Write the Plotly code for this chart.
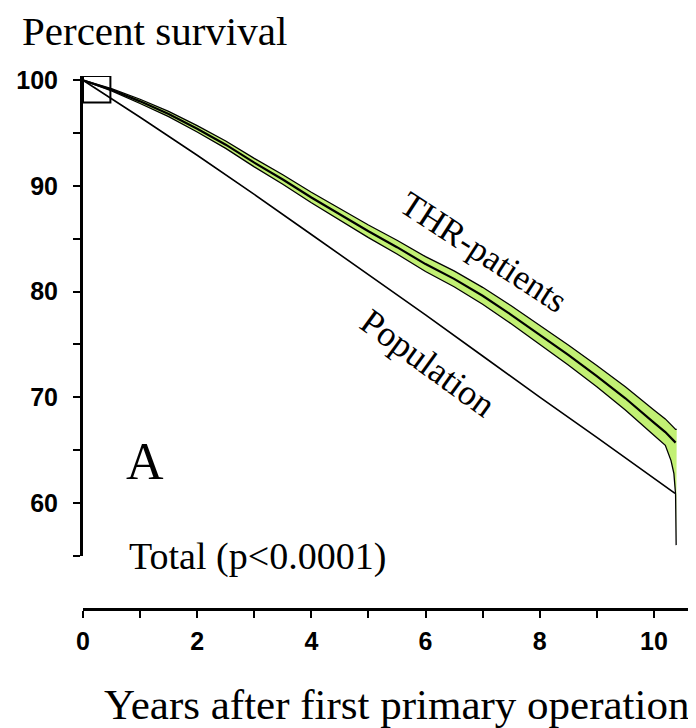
import plotly.graph_objects as go

# THR-patients survival (centre line) and 95% band
thr_years = [0, 0.5, 1, 1.5, 2, 2.5, 3, 3.5, 4, 4.5, 5, 5.5, 6, 6.5, 7, 7.5, 8, 8.5, 9, 9.5, 10, 10.2, 10.38]
thr_surv = [100, 99.1, 98.0, 96.8, 95.4, 93.9, 92.2, 90.6, 88.9, 87.3, 85.7, 84.2, 82.6, 81.2, 79.6, 77.8, 75.9, 74.0, 72.0, 69.9, 67.6, 66.7, 65.7]
thr_halfwidth = [0, 0.1, 0.2, 0.25, 0.3, 0.35, 0.4, 0.45, 0.5, 0.55, 0.6, 0.65, 0.7, 0.75, 0.8, 0.85, 0.9, 0.95, 1.0, 1.1, 1.2, 1.25, 1.25]

# lower band bends down at the end of follow-up
tail_years = [10.3, 10.35, 10.38, 10.39]
tail_lower = [64.0, 62.8, 60.8, 56.0]

# expected survival of the matched population
pop_years = [0, 1, 2, 3, 4, 5, 6, 7, 8, 9, 10, 10.37]
pop_surv = [100, 96.5, 92.9, 89.2, 85.4, 81.6, 77.8, 73.9, 70.0, 66.2, 62.3, 60.9]

upper = [s + h for s, h in zip(thr_surv, thr_halfwidth)]
lower = [s - h for s, h in zip(thr_surv, thr_halfwidth)]
upper_x = thr_years + [10.4]
upper_y = upper + [upper[-1]]
lower_x = thr_years[:-1] + tail_years
lower_y = lower[:-1] + tail_lower

serif = "Liberation Serif, Times New Roman, serif"
sans = "Liberation Sans, Arial, sans-serif"

fig = go.Figure()
fig.add_trace(go.Scatter(
    x=upper_x + lower_x[::-1], y=upper_y + lower_y[::-1],
    fill="toself", fillcolor="#c2f074", line=dict(width=0),
    mode="lines", hoverinfo="skip"))
fig.add_trace(go.Scatter(x=upper_x, y=upper_y, mode="lines",
                         line=dict(color="black", width=1.3)))
fig.add_trace(go.Scatter(x=lower_x, y=lower_y, mode="lines",
                         line=dict(color="black", width=1.3)))
fig.add_trace(go.Scatter(x=thr_years, y=thr_surv, mode="lines",
                         line=dict(color="black", width=2.2)))
fig.add_trace(go.Scatter(x=pop_years, y=pop_surv, mode="lines",
                         line=dict(color="black", width=1.6)))

fig.add_shape(type="rect", x0=0, x1=0.48, y0=97.9, y1=100.4,
              line=dict(color="black", width=2))

fig.add_annotation(x=7.02, y=83.65, text="THR-patients", textangle=33,
                   showarrow=False, font=dict(family=serif, size=35, color="black"))
fig.add_annotation(x=6.04, y=73.25, text="Population", textangle=36,
                   showarrow=False, font=dict(family=serif, size=36, color="black"))
fig.add_annotation(x=1.09, y=63.9, text="A", showarrow=False,
                   font=dict(family=serif, size=52, color="black"))
fig.add_annotation(x=0.072, y=0.0976, xref="paper", yref="paper",
                   text="Total (p<0.0001)", xanchor="left", yanchor="middle",
                   showarrow=False, font=dict(family=serif, size=38, color="black"))
fig.add_annotation(x=-0.104, y=1.085, xref="paper", yref="paper",
                   text="Percent survival", xanchor="left", yanchor="middle",
                   showarrow=False,
                   font=dict(family=serif, size=41, color="black"))
fig.add_annotation(x=0.517, y=-0.18, xref="paper", yref="paper",
                   text="Years after first primary operation",
                   xanchor="center", yanchor="middle", showarrow=False,
                   font=dict(family=serif, size=43, color="black"))

# the page has an 8px body margin, so the figure is shifted to compensate
fig.update_layout(
    width=688, height=720,
    margin=dict(l=75, r=5, t=68, b=119),
    plot_bgcolor="white", paper_bgcolor="white",
    showlegend=False,
    xaxis=dict(range=[0, 10.65], anchor="free", position=0,
               showgrid=False, zeroline=False,
               showline=True, linecolor="black", linewidth=3,
               tickmode="linear", tick0=0, dtick=2,
               ticks="outside", ticklen=7, tickwidth=2, tickcolor="black",
               ticklabelstandoff=2,
               minor=dict(dtick=1, ticks="outside", ticklen=7, tickwidth=2, tickcolor="black"),
               tickfont=dict(family=sans, size=25, color="black", weight="bold")),
    yaxis=dict(range=[55, 100.4], domain=[0.1, 1],
               showgrid=False, zeroline=False,
               showline=True, linecolor="black", linewidth=3,
               tickmode="linear", tick0=0, dtick=10,
               ticks="outside", ticklen=7, tickwidth=2, tickcolor="black",
               ticklabelstandoff=10,
               minor=dict(dtick=5, ticks="outside", ticklen=7, tickwidth=2, tickcolor="black"),
               tickfont=dict(family=sans, size=25, color="black", weight="bold")),
)

fig.write_html("out.html")
